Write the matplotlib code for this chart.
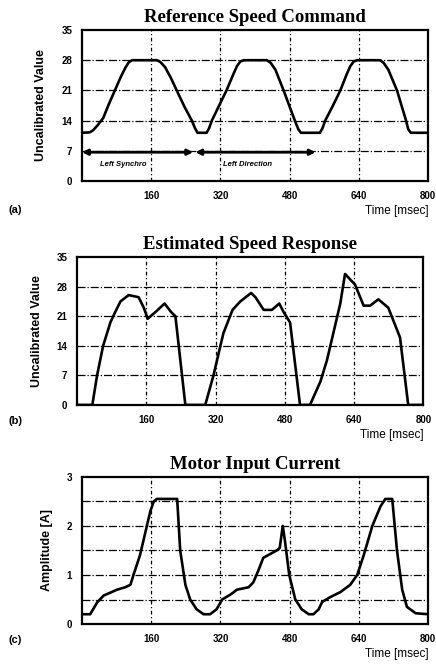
import matplotlib.pyplot as plt

# (a) reference speed command
t_ref = [0, 18, 26, 35, 49, 62, 76, 90, 100, 108, 116, 173, 181, 192, 205, 219, 237, 254, 261, 267, 288,
         294, 300, 317, 334, 350, 358, 366, 374, 427, 436, 447, 466, 492, 500, 506, 550,
         556, 562, 580, 597, 612, 620, 628, 636, 689, 697, 708, 728, 749, 754, 760, 800]
v_ref = [11.2, 11.3, 11.8, 12.8, 14.6, 17.8, 21, 24.2, 26.2, 27.5, 28, 28, 27.6, 26.4, 24, 21, 17.2, 14, 12.3, 11.2, 11.2,
         12.3, 14, 17.5, 21, 24.8, 26.6, 27.7, 28, 28, 27.4, 25.8, 21, 14, 12, 11.2, 11.2,
         12.3, 14, 17.5, 21, 24.8, 26.6, 27.7, 28, 28, 27.4, 25.8, 21, 14, 12, 11.2, 11.2]

# (b) estimated speed response
t_est = [0, 35, 46, 60, 77, 88, 100, 119, 142, 154, 163, 181, 202, 217, 227, 250, 296,
         315, 331, 338, 359, 377, 402, 412, 431, 450, 467, 477, 492, 515, 538,
         562, 577, 592, 608, 619, 642, 662, 677, 696, 719, 746, 765, 800]
v_est = [0, 0, 7, 14, 19.6, 22, 24.5, 26, 25.5, 23, 20.4, 22, 24, 22, 21, 0, 0,
         7, 14, 17, 22.5, 24.5, 26.5, 25.5, 22.5, 22.5, 24, 22, 19.5, 0, 0,
         5.5, 10.5, 17, 24, 31, 28.5, 23.5, 23.5, 25, 23, 16, 0, 0]

# (c) motor input current
t_cur = [0, 19, 35, 50, 81, 100, 112, 119, 134, 150, 158, 166, 173, 220, 227, 239, 250,
         265, 281, 296, 311, 324, 343, 358, 385, 396, 408, 419, 450, 457, 464, 469, 479,
         493, 508, 524, 535, 547, 555, 574, 597, 620, 636, 651, 671, 690, 701, 717,
         728, 740, 751, 771, 800]
v_cur = [0.2, 0.2, 0.44, 0.58, 0.7, 0.75, 0.8, 1.0, 1.4, 2.0, 2.3, 2.5, 2.55, 2.55, 1.5, 0.8, 0.5,
         0.3, 0.2, 0.2, 0.3, 0.5, 0.6, 0.7, 0.75, 0.85, 1.1, 1.35, 1.5, 1.55, 2.0, 1.7, 1.0,
         0.5, 0.3, 0.2, 0.2, 0.3, 0.45, 0.55, 0.65, 0.8, 1.0, 1.4, 2.0, 2.4, 2.55, 2.55,
         1.5, 0.7, 0.35, 0.22, 0.2]

x_ticks = [160, 320, 480, 640, 800]
x_grid = [160, 320, 480, 640]
speed_ticks = [0, 7, 14, 21, 28, 35]
speed_grid = [7, 14, 21, 28]
amp_ticks = [0, 1, 2, 3]
amp_grid = [0.5, 1, 1.5, 2, 2.5]

titles = ['Reference Speed Command', 'Estimated Speed Response', 'Motor Input Current']
ylabels = ['Uncalibrated Value', 'Uncalibrated Value', 'Amplitude [A]']
tags = ['(a)', '(b)', '(c)']

fig = plt.figure(figsize=(4.36, 6.66), dpi=100)
boxes = [[0.188, 0.728, 0.794, 0.227],
         [0.177, 0.392, 0.794, 0.222],
         [0.188, 0.063, 0.794, 0.221]]
series = [(t_ref, v_ref), (t_est, v_est), (t_cur, v_cur)]
tag_y = [0.68, 0.363, 0.035]

for i, box in enumerate(boxes):
    ax = fig.add_axes(box)
    t, v = series[i]
    ax.plot(t, v, color='black', lw=1.9, solid_joinstyle='round', zorder=3)
    ax.set_xlim(0, 800)
    if i < 2:
        ax.set_ylim(0, 35)
        ax.set_yticks(speed_ticks)
        for g in speed_grid:
            ax.axhline(g, color='black', lw=0.9, ls='-.', zorder=1)
    else:
        ax.set_ylim(0, 3)
        ax.set_yticks(amp_ticks)
        for g in amp_grid:
            ax.axhline(g, color='black', lw=0.9, ls='-.', zorder=1)
    for g in x_grid:
        ax.axvline(g, color='black', lw=0.9, ls=(0, (3, 2, 1, 2)), zorder=1)
    ax.set_xticks(x_ticks)
    ax.tick_params(length=0, labelsize=7, pad=7)
    for lab in ax.get_xticklabels() + ax.get_yticklabels():
        lab.set_fontweight('bold')
        lab.set_family('Liberation Sans')
    for s in ax.spines.values():
        s.set_linewidth(1.6)
    ax.set_title(titles[i], family='Liberation Serif', fontweight='bold', fontsize=13.5, pad=6)
    ax.set_ylabel(ylabels[i], family='Liberation Sans', fontweight='bold', fontsize=9, labelpad=10)
    ax.text(1.0, -0.16, 'Time [msec]', transform=ax.transAxes, ha='right', va='top',
            family='Liberation Sans', fontsize=8.5)
    fig.text(0.02, tag_y[i], tags[i], family='Liberation Sans', fontweight='bold', fontsize=8)

    if i == 0:
        ax.annotate('', xy=(0, 6.7), xytext=(257, 6.7),
                    arrowprops=dict(arrowstyle='<|-|>', color='black', lw=2.0,
                                    mutation_scale=8, shrinkA=0, shrinkB=0))
        ax.annotate('', xy=(262, 6.7), xytext=(540, 6.7),
                    arrowprops=dict(arrowstyle='<|-|>', color='black', lw=2.0,
                                    mutation_scale=8, shrinkA=0, shrinkB=0))
        ax.text(42, 3.9, 'Left Synchro', fontsize=5.5, style='italic', fontweight='bold',
                va='center', family='Liberation Sans')
        ax.text(325, 3.9, 'Left Direction', fontsize=5.5, style='italic', fontweight='bold',
                va='center', family='Liberation Sans')

fig.savefig('out.png', dpi=100)
